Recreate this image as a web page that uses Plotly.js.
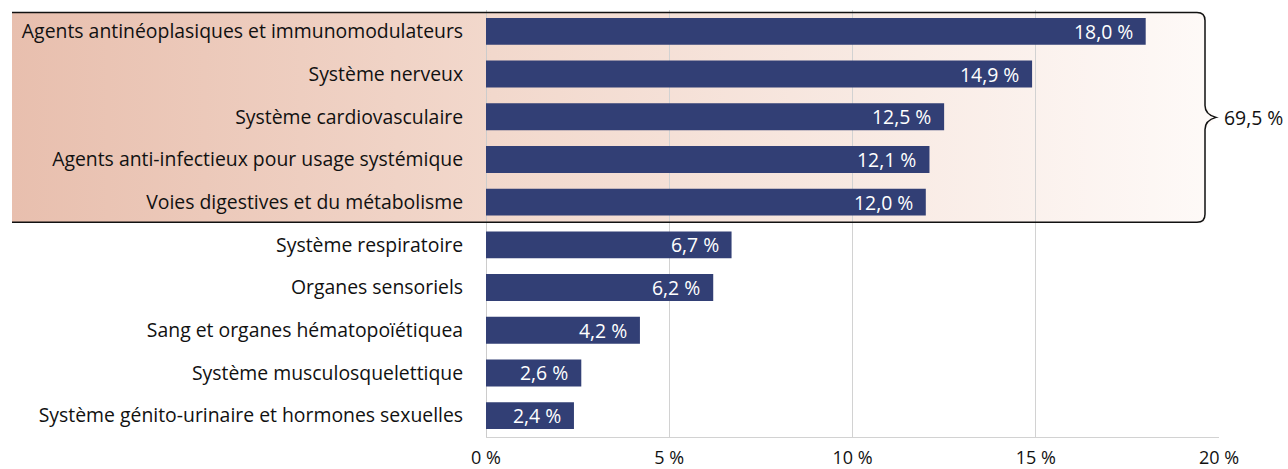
<!DOCTYPE html>
<html>
<head>
<meta charset="utf-8">
<script src="https://cdn.plot.ly/plotly-3.0.1.min.js"></script>
<style>html,body{margin:0;padding:0;background:#fff;}#chart{width:1288px;height:469px;}</style>
</head>
<body>
<div id="chart"></div>
<script>
// ---- Data ----
const categories = [
  "Agents antinéoplasiques et immunomodulateurs",
  "Système nerveux",
  "Système cardiovasculaire",
  "Agents anti-infectieux pour usage systémique",
  "Voies digestives et du métabolisme",
  "Système respiratoire",
  "Organes sensoriels",
  "Sang et organes hématopoïétiquea",
  "Système musculosquelettique",
  "Système génito-urinaire et hormones sexuelles"
];
const values = [18.0, 14.9, 12.5, 12.1, 12.0, 6.7, 6.2, 4.2, 2.6, 2.4];
const xTickVals = [0, 5, 10, 15, 20];
const xTickText = ["0 %", "5 %", "10 %", "15 %", "20 %"];
const groupCount = 5;          // number of top categories grouped by the brace
const groupTotalLabel = "69,5 %";

// ---- Layout geometry (pixels) ----
const W = 1288, H = 469;
const plotL = 486, plotR = 1219, plotT = 10, plotB = 437;
const FONT = "'Open Sans', Roboto, sans-serif";
const FS = 19.4;
const FS_TICK = 18;
const fmt = v => v.toFixed(1).replace('.', ',') + ' %';

// category -> pixel y mapping (same as the category axis)
const step = (plotB - plotT) / categories.length;
const catPix = c => plotT + (c + 0.5) * step;

const boxTop = catPix(-0.44), boxBot = catPix(groupCount - 1 + 0.47);
const boxL = 12, braceX = 1205, tipX = 1216, mid = (boxTop + boxBot) / 2;

// gradient fill polygon
const fillTrace = {
  type: 'scatter', mode: 'lines', xaxis: 'x', yaxis: 'y',
  x: [boxL, braceX, braceX, tipX, braceX, braceX, boxL, boxL],
  y: [boxTop, boxTop, mid - 12, mid, mid + 12, boxBot, boxBot, boxTop],
  fill: 'toself', line: {width: 0, color: 'rgba(0,0,0,0)'},
  fillgradient: {type: 'horizontal', colorscale: [[0, '#e8bfae'], [0.4, '#f2d8cc'], [1, '#fefaf8']]},
  hoverinfo: 'skip', showlegend: false
};

const barTrace = {
  type: 'bar', orientation: 'h', xaxis: 'x2', yaxis: 'y2',
  x: values, y: categories,
  marker: {color: '#323f75'}, width: 0.63,
  hoverinfo: 'skip', showlegend: false
};

const r = 8;
const bracePath =
  `M ${boxL},${boxTop} L ${braceX - r},${boxTop} Q ${braceX},${boxTop} ${braceX},${boxTop + r} ` +
  `L ${braceX},${mid - 12} Q ${braceX},${mid - 3} ${tipX},${mid} Q ${braceX},${mid + 3} ${braceX},${mid + 12} ` +
  `L ${braceX},${boxBot - r} Q ${braceX},${boxBot} ${braceX - r},${boxBot} L ${boxL},${boxBot}`;

const annotations = values.map((v, i) => ({
  xref: 'x2', yref: 'y2', x: v, y: categories[i], text: fmt(v),
  xanchor: 'right', yanchor: 'middle', xshift: -11, showarrow: false,
  font: {family: FONT, size: FS, color: '#ffffff'}
}));
annotations.push({
  xref: 'x', yref: 'y', x: 1222, y: mid, text: groupTotalLabel,
  xanchor: 'left', yanchor: 'middle', showarrow: false,
  font: {family: FONT, size: FS, color: '#111111'}
});

const layout = {
  width: W, height: H,
  margin: {l: 0, r: 0, t: 0, b: 0},
  paper_bgcolor: '#ffffff', plot_bgcolor: 'rgba(0,0,0,0)',
  font: {family: FONT, size: FS, color: '#111111'},
  showlegend: false,
  xaxis: {domain: [0, 1], range: [0, W], visible: false, fixedrange: true},
  yaxis: {domain: [0, 1], range: [H, 0], visible: false, fixedrange: true},
  xaxis2: {
    domain: [plotL / W, plotR / W], range: [0, 20], anchor: 'y2',
    tickvals: xTickVals, ticktext: xTickText,
    showgrid: true, gridcolor: '#d2d2d2', gridwidth: 1,
    zeroline: true, zerolinecolor: '#cccccc', zerolinewidth: 1,
    showline: true, linecolor: '#d2d2d2', linewidth: 1,
    ticks: 'outside', ticklen: 4, tickcolor: 'rgba(0,0,0,0)',
    tickfont: {family: FONT, size: FS_TICK, color: '#111111'}, automargin: false
  },
  yaxis2: {
    domain: [(H - plotB) / H, (H - plotT) / H], anchor: 'x2',
    type: 'category', autorange: 'reversed',
    showgrid: false, zeroline: false, showline: false,
    ticks: 'outside', ticklen: 18, tickcolor: 'rgba(0,0,0,0)',
    tickfont: {family: FONT, size: FS, color: '#111111'}, automargin: false
  },
  shapes: [{
    type: 'path', xref: 'x', yref: 'y', path: bracePath,
    line: {color: '#111111', width: 1.5}, fillcolor: 'rgba(0,0,0,0)', layer: 'above'
  }],
  annotations: annotations
};

Plotly.newPlot('chart', [fillTrace, barTrace], layout, {displayModeBar: false, staticPlot: true});
</script>
</body>
</html>
